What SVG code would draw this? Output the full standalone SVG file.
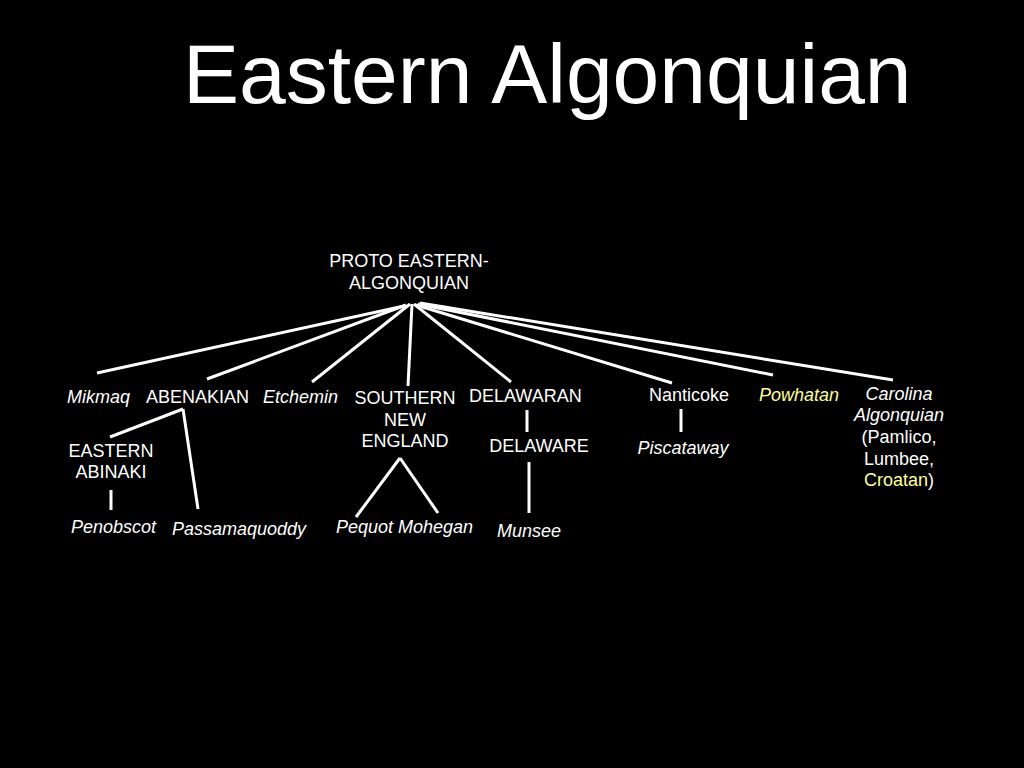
<svg xmlns="http://www.w3.org/2000/svg" width="1024" height="768" viewBox="0 0 1024 768">
<style>
text{font-family:"Liberation Sans",Arial,sans-serif;fill:#fff;font-size:18px}
.t{font-size:84px}
.i{font-style:italic}
.m{text-anchor:middle}
.y{fill:#ffff99}
.c line{stroke:#fff;stroke-width:3;stroke-linecap:butt}
</style>
<rect width="1024" height="768" fill="#000"/>
<text class="t" x="183" y="103">Eastern Algonquian</text>
<g class="c" id="connectors">
<line x1="404" y1="306" x2="97" y2="373"/>
<line x1="406" y1="305" x2="207" y2="379"/>
<line x1="410" y1="304" x2="312" y2="382"/>
<line x1="412" y1="304" x2="408" y2="386"/>
<line x1="414" y1="304" x2="511" y2="382"/>
<line x1="416" y1="305" x2="672" y2="383"/>
<line x1="418" y1="304" x2="773" y2="375"/>
<line x1="420" y1="303" x2="893" y2="380"/>
<line x1="183" y1="409" x2="110" y2="437"/>
<line x1="183" y1="409" x2="198" y2="509"/>
<line x1="111" y1="490" x2="111" y2="510"/>
<line x1="400" y1="458" x2="356" y2="517"/>
<line x1="400" y1="458" x2="438" y2="513"/>
<line x1="527" y1="410" x2="527" y2="432"/>
<line x1="529" y1="462" x2="529" y2="513"/>
<line x1="681" y1="409" x2="681" y2="432"/>
</g>
<g id="proto"><text class="m" x="409" y="267">PROTO EASTERN-</text><text class="m" x="409" y="289">ALGONQUIAN</text></g>
<g id="mikmaq"><text class="i" x="67" y="403">Mikmaq</text></g>
<g id="abenakian"><text x="146" y="403">ABENAKIAN</text></g>
<g id="etchemin"><text class="i" x="263" y="403">Etchemin</text></g>
<g id="sne"><text class="m" x="405" y="404">SOUTHERN</text><text class="m" x="405" y="426">NEW</text><text class="m" x="405" y="447">ENGLAND</text></g>
<g id="delawaran"><text x="469" y="402">DELAWARAN</text></g>
<g id="delaware"><text class="m" x="539" y="452">DELAWARE</text></g>
<g id="munsee"><text class="i" x="497" y="537">Munsee</text></g>
<g id="nanticoke"><text class="m" x="689" y="401">Nanticoke</text></g>
<g id="piscataway"><text class="i m" x="683" y="454">Piscataway</text></g>
<g id="powhatan"><text class="i y" x="759" y="401">Powhatan</text></g>
<g id="carolina"><text class="i m" x="899" y="400">Carolina</text><text class="i m" x="899" y="421">Algonquian</text><text class="m" x="899" y="443">(Pamlico,</text><text class="m" x="899" y="465">Lumbee,</text><text class="m" x="899" y="486"><tspan class="y">Croatan</tspan>)</text></g>
<g id="eastern-abinaki"><text class="m" x="111" y="457">EASTERN</text><text class="m" x="111" y="478">ABINAKI</text></g>
<g id="penobscot"><text class="i" x="71" y="533">Penobscot</text></g>
<g id="passamaquoddy"><text class="i" x="172" y="535">Passamaquoddy</text></g>
<g id="pequot-mohegan"><text class="i" x="336" y="533">Pequot Mohegan</text></g>
</svg>
